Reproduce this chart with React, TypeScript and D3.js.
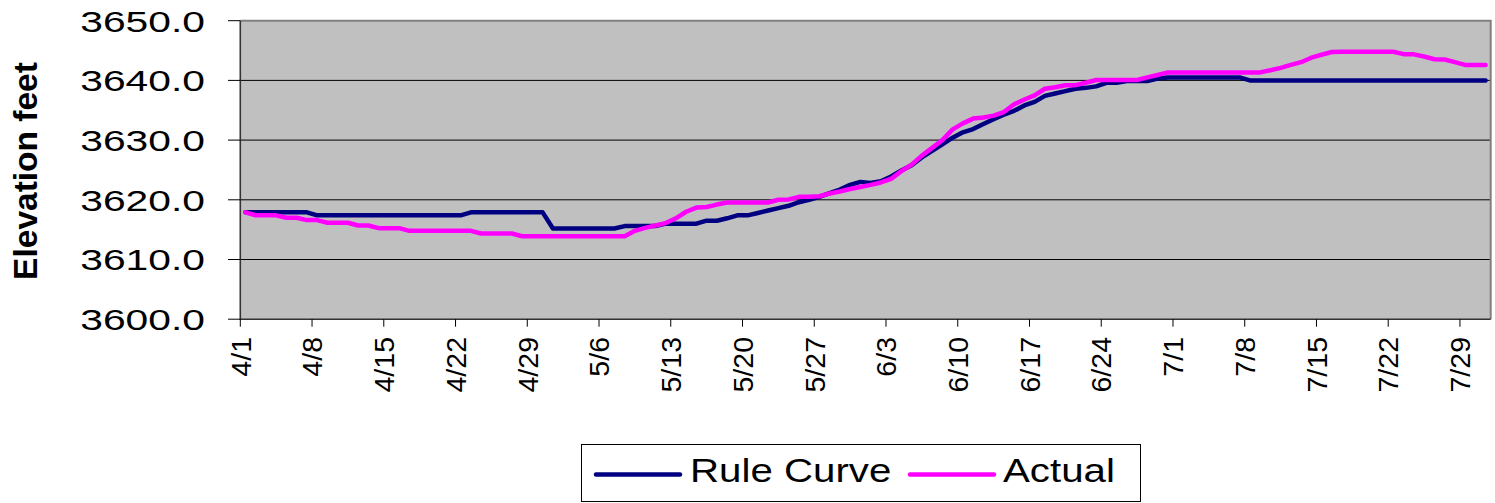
import React, { useEffect, useRef } from "react";
import * as d3 from "d3";

// daily values 4/1 .. 7/31
const ruleCurve = [
  3617.9, 3617.9, 3617.9, 3617.9, 3617.9, 3617.9, 3617.9,
  3617.4, 3617.4, 3617.4, 3617.4, 3617.4, 3617.4, 3617.4, 3617.4, 3617.4, 3617.4, 3617.4, 3617.4, 3617.4, 3617.4, 3617.4,
  3617.9, 3617.9, 3617.9, 3617.9, 3617.9, 3617.9, 3617.9, 3617.9,
  3615.2, 3615.2, 3615.2, 3615.2, 3615.2, 3615.2, 3615.2,
  3615.6, 3615.6, 3615.6, 3615.6,
  3616.0, 3616.0, 3616.0, 3616.0,
  3616.5, 3616.5, 3616.9, 3617.4, 3617.4,
  3617.8, 3618.2, 3618.6, 3619.0, 3619.6, 3620.0, 3620.5, 3621.1, 3621.7, 3622.5,
  3623.0, 3622.8, 3623.1, 3623.9, 3624.9, 3625.8, 3627.1, 3628.2, 3629.3, 3630.4,
  3631.3, 3631.85, 3632.7, 3633.5, 3634.25, 3634.9, 3635.8, 3636.4, 3637.4, 3637.8,
  3638.2, 3638.6, 3638.75, 3639.0, 3639.6, 3639.6, 3639.9, 3639.9, 3639.9, 3640.3,
  3640.5, 3640.5, 3640.5, 3640.5, 3640.5, 3640.5, 3640.5, 3640.5,
  3640.0, 3640.0, 3640.0, 3640.0, 3640.0, 3640.0, 3640.0, 3640.0, 3640.0, 3640.0, 3640.0, 3640.0,
  3640.0, 3640.0, 3640.0, 3640.0, 3640.0, 3640.0, 3640.0, 3640.0, 3640.0, 3640.0, 3640.0, 3640.0,
];

const actual = [
  3617.9, 3617.4, 3617.4, 3617.4, 3617.0, 3617.0, 3616.6, 3616.6,
  3616.15, 3616.15, 3616.15, 3615.7, 3615.7, 3615.25, 3615.25, 3615.25,
  3614.8, 3614.8, 3614.8, 3614.8, 3614.8, 3614.8, 3614.8,
  3614.35, 3614.35, 3614.35, 3614.35,
  3613.9, 3613.9, 3613.9, 3613.9, 3613.9, 3613.9, 3613.9, 3613.9, 3613.9, 3613.9, 3613.9,
  3614.8, 3615.3, 3615.7, 3616.1, 3616.9, 3618.0, 3618.7, 3618.8, 3619.2,
  3619.55, 3619.55, 3619.55, 3619.55, 3619.55,
  3620.0, 3620.05, 3620.5, 3620.5, 3620.6, 3621.06, 3621.4, 3621.8, 3622.15, 3622.5,
  3622.9, 3623.5, 3624.8, 3625.9, 3627.4, 3628.7, 3630.0, 3631.8, 3632.8, 3633.6,
  3633.8, 3634.1, 3634.7, 3636.0, 3636.8, 3637.5, 3638.6, 3638.85, 3639.2, 3639.2,
  3639.6,
  3640.06, 3640.06, 3640.06, 3640.06, 3640.06,
  3640.5, 3640.9,
  3641.34, 3641.34, 3641.34, 3641.34, 3641.34, 3641.34, 3641.34, 3641.34, 3641.34, 3641.34,
  3641.7, 3642.1, 3642.6, 3643.05, 3643.8, 3644.3, 3644.75,
  3644.8, 3644.8, 3644.8, 3644.8, 3644.8, 3644.8,
  3644.4, 3644.36, 3644.0, 3643.55, 3643.5, 3643.05,
  3642.6, 3642.6, 3642.6,
];

const tickLabels = ["4/1", "4/8", "4/15", "4/22", "4/29", "5/6", "5/13", "5/20", "5/27", "6/3", "6/10", "6/17", "6/24", "7/1", "7/8", "7/15", "7/22", "7/29"];
const yTicks = [3600, 3610, 3620, 3630, 3640, 3650];

const YEAR = 2005;

const App = () => {
  const svgRef = useRef(null);

  useEffect(() => {
    const width = 1495;
    const height = 503;
    const plot = { left: 240.3, right: 1490.7, top: 20.7, bottom: 319.2 };

    const start = new Date(Date.UTC(YEAR, 3, 1));
    const end = new Date(Date.UTC(YEAR, 7, 1));
    const days = d3.utcDay.range(start, end);

    const x = d3.scaleUtc().domain([start, end]).range([plot.left, plot.right]);
    const y = d3.scaleLinear().domain([3600, 3650]).range([plot.bottom, plot.top]);
    const xc = (i) => x(d3.utcHour.offset(days[i], 12));

    const svg = d3
      .select(svgRef.current)
      .attr("width", width)
      .attr("height", height)
      .style("font-family", "'Liberation Sans', Arial, sans-serif");

    svg.selectAll("*").remove();

    // plot background
    svg
      .append("rect")
      .attr("x", plot.left)
      .attr("y", plot.top)
      .attr("width", plot.right - plot.left)
      .attr("height", plot.bottom - plot.top)
      .attr("fill", "#c0c0c0");

    // gridlines
    svg
      .append("g")
      .selectAll("line")
      .data(yTicks.slice(1, -1))
      .join("line")
      .attr("x1", plot.left)
      .attr("x2", plot.right)
      .attr("y1", (d) => y(d))
      .attr("y2", (d) => y(d))
      .attr("stroke", "#000")
      .attr("stroke-width", 1);

    // border top/right
    svg
      .append("path")
      .attr("d", `M${plot.left},${plot.top}H${plot.right}V${plot.bottom}`)
      .attr("fill", "none")
      .attr("stroke", "#808080")
      .attr("stroke-width", 2);

    // axes lines
    svg
      .append("path")
      .attr("d", `M${plot.left},${plot.top}V${plot.bottom}H${plot.right}`)
      .attr("fill", "none")
      .attr("stroke", "#333")
      .attr("stroke-width", 1.6);

    // y ticks + labels
    const yAxis = svg.append("g");
    yAxis
      .selectAll("line")
      .data(yTicks)
      .join("line")
      .attr("x1", 228)
      .attr("x2", plot.left)
      .attr("y1", (d) => y(d))
      .attr("y2", (d) => y(d))
      .attr("stroke", "#000")
      .attr("stroke-width", 1);

    yAxis
      .selectAll("text")
      .data(yTicks)
      .join("text")
      .attr("transform", (d) => `translate(205,${y(d)}) scale(1.36,1)`)
      .attr("text-anchor", "end")
      .attr("dy", "0.36em")
      .attr("font-size", 30)
      .attr("fill", "#000")
      .text((d) => d3.format(".1f")(d));

    // y title
    svg
      .append("text")
      .attr("transform", `translate(37,171) rotate(-90)`)
      .attr("text-anchor", "middle")
      .attr("font-size", 33.5)
      .attr("font-weight", "bold")
      .attr("fill", "#000")
      .text("Elevation feet");

    // x ticks + labels
    const parseTick = (s) => {
      const [m, d] = s.split("/").map(Number);
      return new Date(Date.UTC(YEAR, m - 1, d));
    };
    const xAxis = svg.append("g");
    xAxis
      .selectAll("line")
      .data(tickLabels)
      .join("line")
      .attr("x1", (d) => x(parseTick(d)))
      .attr("x2", (d) => x(parseTick(d)))
      .attr("y1", plot.bottom)
      .attr("y2", plot.bottom + 7.5)
      .attr("stroke", "#000")
      .attr("stroke-width", 1);

    xAxis
      .selectAll("text")
      .data(tickLabels)
      .join("text")
      .attr("transform", (d) => `translate(${x(parseTick(d))},337) rotate(-90)`)
      .attr("text-anchor", "end")
      .attr("dy", "0.36em")
      .attr("font-size", 28.5)
      .attr("fill", "#000")
      .text((d) => d);

    // lines
    const line = d3
      .line()
      .x((d, i) => xc(i))
      .y((d) => y(d));

    const series = [
      { name: "Rule Curve", values: ruleCurve, color: "#000080" },
      { name: "Actual", values: actual, color: "#ff00ff" },
    ];

    svg
      .append("g")
      .selectAll("path")
      .data(series)
      .join("path")
      .attr("d", (d) => line(d.values))
      .attr("fill", "none")
      .attr("stroke", (d) => d.color)
      .attr("stroke-width", 4.5)
      .attr("stroke-linejoin", "round")
      .attr("stroke-linecap", "round");

    // legend
    const legend = svg.append("g");
    legend
      .append("rect")
      .attr("x", 581.5)
      .attr("y", 444.5)
      .attr("width", 559)
      .attr("height", 57)
      .attr("fill", "#fff")
      .attr("stroke", "#000")
      .attr("stroke-width", 1);

    const legendItems = [
      { ...series[0], x1: 596, x2: 680, tx: 690 },
      { ...series[1], x1: 910, x2: 994, tx: 1003 },
    ];
    const item = legend.selectAll("g").data(legendItems).join("g");
    item
      .append("line")
      .attr("x1", (d) => d.x1)
      .attr("x2", (d) => d.x2)
      .attr("y1", 474.5)
      .attr("y2", 474.5)
      .attr("stroke", (d) => d.color)
      .attr("stroke-width", 4.5)
      .attr("stroke-linecap", "round");
    item
      .append("text")
      .attr("transform", (d) => `translate(${d.tx},482) scale(1.22,1)`)
      .attr("font-size", 33)
      .attr("fill", "#000")
      .text((d) => d.name);
  }, []);

  return (
    <div style={{ position: "absolute", left: 0, top: 0, width: 1495, height: 503, background: "#fff" }}>
      <svg ref={svgRef} style={{ display: "block" }}></svg>
    </div>
  );
};

export default App;
